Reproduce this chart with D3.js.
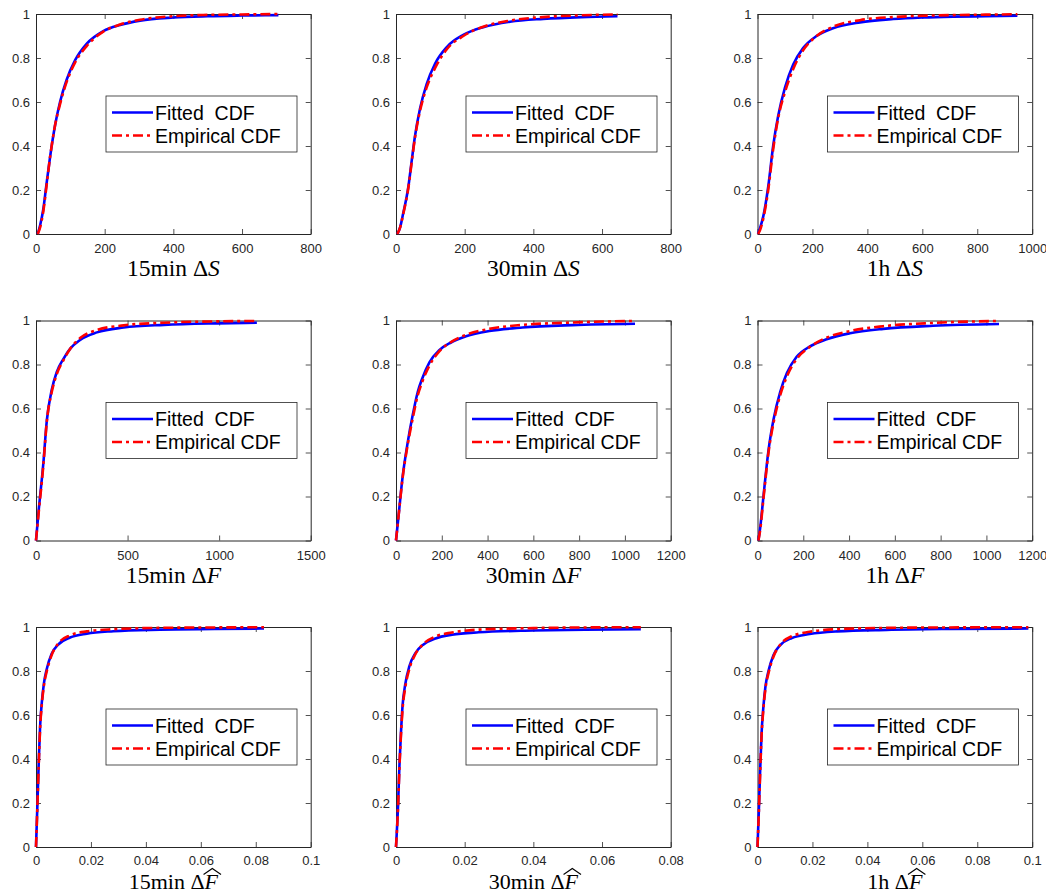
<!DOCTYPE html>
<html>
<head>
<meta charset="utf-8">
<script src="https://cdn.jsdelivr.net/npm/d3@7"></script>
<style>
  html, body { margin: 0; padding: 0; background: #ffffff; }
  svg { display: block; }
</style>
</head>
<body>
<div id="chart"></div>
<script>
// ---------------- data ----------------
const panelPrefixes = ["15min ", "30min ", "1h ", "15min ", "30min ", "1h ", "15min ", "30min ", "1h "];
const panelVars = ["S", "S", "S", "F", "F", "F", "F", "F", "F"];
const panelHat = [false, false, false, false, false, false, true, true, true];
const legendLabels = ["Fitted  CDF", "Empirical CDF"];
const yTicks = [0, 0.2, 0.4, 0.6, 0.8, 1];

const xMaxes = [800, 800, 1000, 1500, 1200, 1200, 0.1, 0.08, 0.1];
const xTicks = [
  [0, 200, 400, 600, 800],
  [0, 200, 400, 600, 800],
  [0, 200, 400, 600, 800, 1000],
  [0, 500, 1000, 1500],
  [0, 200, 400, 600, 800, 1000, 1200],
  [0, 200, 400, 600, 800, 1000, 1200],
  [0, 0.02, 0.04, 0.06, 0.08, 0.1],
  [0, 0.02, 0.04, 0.06, 0.08],
  [0, 0.02, 0.04, 0.06, 0.08, 0.1]
];

// 15min ΔS
const xS15 = [5, 12, 21, 30, 41, 55, 70, 89, 114, 148, 196, 245, 303, 400, 500, 600, 706];
const fitS15 = [0, 0.04, 0.11, 0.22, 0.35, 0.49, 0.60, 0.70, 0.79, 0.865, 0.922, 0.950, 0.970, 0.984, 0.990, 0.993, 0.995];
const empS15 = [0, 0.03, 0.10, 0.21, 0.35, 0.49, 0.59, 0.69, 0.78, 0.855, 0.920, 0.952, 0.974, 0.990, 0.996, 0.998, 1.0];
// 30min ΔS
const xS30 = [4, 12, 21, 36, 46, 55, 70, 89, 114, 148, 196, 254, 332, 429, 540, 645];
const fitS30 = [0, 0.03, 0.094, 0.215, 0.336, 0.442, 0.57, 0.68, 0.775, 0.85, 0.905, 0.94, 0.965, 0.978, 0.986, 0.99];
const empS30 = [0, 0.03, 0.09, 0.21, 0.33, 0.435, 0.56, 0.665, 0.755, 0.84, 0.90, 0.942, 0.97, 0.986, 0.994, 0.998];
// 1h ΔS
const xS1h = [2, 10, 21, 39, 57, 75, 100, 130, 166, 215, 275, 373, 494, 600, 712, 830, 946];
const fitS1h = [0, 0.03, 0.08, 0.215, 0.40, 0.535, 0.665, 0.77, 0.845, 0.90, 0.935, 0.962, 0.977, 0.984, 0.988, 0.990, 0.992];
const empS1h = [0, 0.02, 0.07, 0.20, 0.385, 0.525, 0.645, 0.75, 0.835, 0.90, 0.942, 0.972, 0.986, 0.992, 0.995, 0.997, 0.999];
// 15min ΔF
const xF15 = [0, 15, 40, 59, 86, 113, 150, 187, 241, 333, 479, 699, 990, 1206];
const fitF15 = [0, 0.14, 0.35, 0.545, 0.685, 0.765, 0.826, 0.872, 0.912, 0.946, 0.968, 0.980, 0.987, 0.990];
const empF15 = [0, 0.13, 0.34, 0.54, 0.675, 0.755, 0.82, 0.872, 0.92, 0.957, 0.978, 0.99, 0.996, 0.998];
// 30min ΔF
const xF30 = [0, 10, 29, 51, 73, 95, 116, 146, 189, 240, 306, 408, 553, 771, 1044];
const fitF30 = [0, 0.10, 0.29, 0.445, 0.57, 0.675, 0.74, 0.81, 0.865, 0.90, 0.928, 0.952, 0.968, 0.979, 0.985];
const empF30 = [0, 0.10, 0.285, 0.435, 0.555, 0.66, 0.725, 0.795, 0.86, 0.902, 0.935, 0.962, 0.980, 0.991, 0.998];
// 1h ΔF
const xF1h = [4, 12, 26, 48, 70, 99, 128, 171, 229, 302, 404, 549, 767, 1055];
const fitF1h = [0, 0.06, 0.20, 0.41, 0.55, 0.675, 0.76, 0.835, 0.882, 0.915, 0.942, 0.962, 0.976, 0.984];
const empF1h = [0, 0.05, 0.19, 0.40, 0.535, 0.66, 0.745, 0.825, 0.88, 0.922, 0.952, 0.974, 0.989, 0.998];
// 15min ΔF-hat
const xH15 = [0, 0.0005, 0.001, 0.0015, 0.0021, 0.0029, 0.0039, 0.0057, 0.0081, 0.0124, 0.0185, 0.0282, 0.045, 0.065, 0.083];
const fitH15 = [0, 0.19, 0.385, 0.55, 0.655, 0.745, 0.808, 0.878, 0.92, 0.952, 0.970, 0.981, 0.988, 0.991, 0.993];
const empH15 = [0, 0.18, 0.375, 0.54, 0.645, 0.735, 0.798, 0.872, 0.925, 0.962, 0.980, 0.99, 0.996, 0.998, 0.999];
// 30min ΔF-hat
const xH30 = [0, 0.0006, 0.001, 0.0014, 0.0019, 0.0027, 0.0039, 0.0056, 0.0081, 0.0115, 0.0163, 0.0241, 0.04, 0.055, 0.0713];
const fitH30 = [0, 0.19, 0.37, 0.505, 0.64, 0.74, 0.822, 0.88, 0.922, 0.948, 0.965, 0.976, 0.984, 0.988, 0.99];
const empH30 = [0, 0.18, 0.36, 0.495, 0.625, 0.725, 0.81, 0.875, 0.925, 0.957, 0.975, 0.988, 0.995, 0.998, 0.999];
// 1h ΔF-hat
const xH1h = [0, 0.0005, 0.001, 0.0015, 0.0021, 0.0029, 0.004, 0.0058, 0.0083, 0.0125, 0.019, 0.029, 0.047, 0.07, 0.0986];
const fitH1h = [0, 0.17, 0.36, 0.52, 0.63, 0.73, 0.80, 0.872, 0.918, 0.95, 0.968, 0.98, 0.987, 0.991, 0.993];
const empH1h = [0, 0.16, 0.35, 0.51, 0.62, 0.72, 0.79, 0.865, 0.92, 0.958, 0.978, 0.99, 0.996, 0.998, 0.999];

const panelX = [xS15, xS30, xS1h, xF15, xF30, xF1h, xH15, xH30, xH1h];
const panelFit = [fitS15, fitS30, fitS1h, fitF15, fitF30, fitF1h, fitH15, fitH30, fitH1h];
const panelEmp = [empS15, empS30, empS1h, empF15, empF30, empF1h, empH15, empH30, empH1h];

// ---------------- layout ----------------
const W = 1046, H = 894;
const colLeft = [36, 396, 757.5];
const rowTop = [14, 320.5, 627];
const axW = 274.7, axH = 220;
const axisColor = "#262626";
const tickFont = "'Liberation Sans', Arial, Helvetica, sans-serif";

const svg = d3.select("#chart").append("svg")
  .attr("width", W).attr("height", H)
  .attr("viewBox", `0 0 ${W} ${H}`);

panelX.forEach((xs, i) => {
  const r = Math.floor(i / 3), c = i % 3;
  const g = svg.append("g").attr("transform", `translate(${colLeft[c]},${rowTop[r]})`);
  const x = d3.scaleLinear().domain([0, xMaxes[i]]).range([0, axW]);
  const y = d3.scaleLinear().domain([0, 1]).range([axH, 0]);

  const fmt = d => String(d);

  // axes with inward ticks
  const bottom = g.append("g").attr("transform", `translate(0,${axH})`)
    .call(d3.axisBottom(x).tickValues(xTicks[i]).tickSize(-5).tickSizeOuter(0).tickPadding(panelHat[i] ? 9 : 10).tickFormat(fmt));
  const left = g.append("g")
    .call(d3.axisLeft(y).tickValues(yTicks).tickSize(-5).tickSizeOuter(0).tickPadding(6).tickFormat(fmt));
  const top = g.append("g")
    .call(d3.axisTop(x).tickValues(xTicks[i]).tickSize(-5).tickSizeOuter(0).tickFormat(""));
  const right = g.append("g").attr("transform", `translate(${axW},0)`)
    .call(d3.axisRight(y).tickValues(yTicks).tickSize(-5).tickSizeOuter(0).tickFormat(""));
  [bottom, left, top, right].forEach(a => {
    a.selectAll("path.domain").attr("stroke", axisColor).attr("stroke-width", 1);
    a.selectAll(".tick line").attr("stroke", axisColor).attr("stroke-width", 0.8);
    a.selectAll(".tick text").attr("fill", axisColor).style("font-family", tickFont).style("font-size", "13px");
  });

  // curves
  const pts = (ys) => xs.map((v, k) => [v, ys[k]]);
  const line = d3.line().x(d => x(d[0])).y(d => y(d[1])).curve(d3.curveMonotoneX);
  g.append("path").datum(pts(panelFit[i]))
    .attr("d", line).attr("fill", "none").attr("stroke", "#0000ff")
    .attr("stroke-width", 2.6).attr("stroke-linejoin", "round");
  g.append("path").datum(pts(panelEmp[i]))
    .attr("d", line).attr("fill", "none").attr("stroke", "#ff0000")
    .attr("stroke-width", 2.6).attr("stroke-dasharray", "10,4,3,4");

  // legend
  const lg = g.append("g").attr("transform", `translate(70,82)`);
  lg.append("rect").attr("x", 0).attr("y", 0).attr("width", 191).attr("height", 56)
    .attr("fill", "#ffffff").attr("stroke", axisColor).attr("stroke-width", 0.8);
  const rowsY = [16.5, 39.5];
  legendLabels.forEach((lab, k) => {
    const ln = lg.append("line").attr("x1", 6).attr("x2", 47).attr("y1", rowsY[k]).attr("y2", rowsY[k])
      .attr("stroke-width", 2.6);
    if (k === 0) ln.attr("stroke", "#0000ff");
    else ln.attr("stroke", "#ff0000").attr("stroke-dasharray", "10,4,3,4");
    lg.append("text").attr("x", 49).attr("y", rowsY[k] + 7)
      .attr("fill", "#000000")
      .style("font-family", tickFont).style("font-size", "19.5px")
      .style("white-space", "pre").attr("xml:space", "preserve")
      .text(lab);
  });

  // axis label
  const base = axH + (panelHat[i] ? 41.5 : 42);
  const lab = g.append("text")
    .attr("x", axW / 2).attr("y", base)
    .attr("text-anchor", "middle")
    .attr("fill", "#000000")
    .style("font-family", "'Liberation Serif', 'Times New Roman', serif")
    .style("font-size", panelHat[i] ? "22px" : "23.5px")
    .attr("xml:space", "preserve");
  lab.append("tspan").text(panelPrefixes[i]);
  lab.append("tspan").text("Δ");
  lab.append("tspan").style("font-style", "italic").text(panelVars[i]);

  if (panelHat[i]) {
    const node = lab.node();
    const n = node.getNumberOfChars();
    const s = node.getStartPositionOfChar(n - 1);
    const e = node.getEndPositionOfChar(n - 1);
    const x0 = s.x - 1, x1 = e.x + 3;
    g.append("path")
      .attr("d", `M${x0},${base - 14} L${(x0 + x1) / 2},${base - 20} L${x1},${base - 14}`)
      .attr("fill", "none").attr("stroke", "#000000").attr("stroke-width", 1.1);
  }
});
</script>
</body>
</html>
